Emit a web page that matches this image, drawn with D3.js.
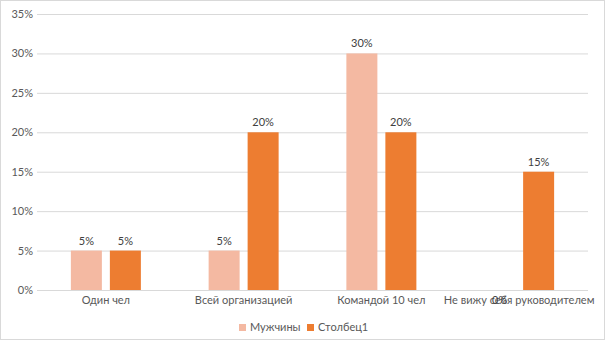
<!DOCTYPE html>
<html><head><meta charset="utf-8">
<script src="https://cdn.jsdelivr.net/npm/d3@7"></script>
<style>body{margin:0;background:#fff}svg{display:block}text{font-family:Lato,"Open Sans",sans-serif}</style>
</head><body><svg id="c" width="605" height="340"></svg>
<script>
const categories = ["Один чел","Всей организацией","Командой 10 чел","Не вижу себя руководителем"];
const seriesNames = ["Мужчины","Столбец1"];
const men = [5,5,30,0];
const col1 = [5,20,20,15];
const yTicks = [0,5,10,15,20,25,30,35];
const colors = ["#F4B9A2","#ED7D31"];

const svg = d3.select("#c");
svg.append("rect").attr("x",0.5).attr("y",0.5).attr("width",604).attr("height",339).attr("fill","#fff").attr("stroke","#d9d9d9");

const x = d3.scaleBand().domain(categories).range([37,588]);
const y = d3.scaleLinear().domain([0,35]).range([290,14]);
const half = x.bandwidth()/2;
const inner = d3.scaleBand().domain(seriesNames).range([half-35,half+35]).paddingInner(0.205);

const yAxis = d3.axisLeft(y).tickValues(yTicks).tickSize(-(588-37)).tickFormat(d=>d+"%");
const ga = svg.append("g").attr("transform","translate(37,0)").call(yAxis);
ga.select(".domain").remove();
ga.selectAll(".tick line").attr("stroke","#d9d9d9");
ga.selectAll(".tick text").attr("fill","#595959").attr("font-size","11px").attr("x",-4);

const data = [men,col1];
data.forEach((vals,si)=>{
  const g = svg.append("g");
  g.selectAll("rect").data(vals).join("rect")
    .attr("x",(d,i)=>x(categories[i])+inner(seriesNames[si]))
    .attr("y",d=>y(d)).attr("width",inner.bandwidth()).attr("height",d=>y(0)-y(d))
    .attr("fill",colors[si]);
});

const xAxis = d3.axisBottom(x).tickSize(0);
const gx = svg.append("g").attr("transform","translate(0,290)").call(xAxis);
gx.select(".domain").remove();
gx.selectAll(".tick text").attr("fill","#595959").attr("font-size","11px").attr("dy",0).attr("y",14);
svg.append("line").attr("x1",37).attr("x2",588).attr("y1",290.5).attr("y2",290.5).attr("stroke","#d9d9d9");

data.forEach((vals,si)=>{
  svg.append("g").selectAll("text").data(vals).join("text")
    .attr("x",(d,i)=>x(categories[i])+inner(seriesNames[si])+inner.bandwidth()/2)
    .attr("y",d=>d===0? 304 : y(d)-6)
    .attr("text-anchor","middle").attr("fill","#404040").attr("font-size","11px")
    .text(d=>d+"%");
});

const leg = svg.append("g");
const legX = [239,307];
seriesNames.forEach((n,i)=>{
  leg.append("rect").attr("x",legX[i]).attr("y",324).attr("width",7).attr("height",7).attr("fill",colors[i]);
  leg.append("text").attr("x",legX[i]+11).attr("y",331).attr("fill","#595959").attr("font-size","11px").text(n);
});
</script></body></html>
